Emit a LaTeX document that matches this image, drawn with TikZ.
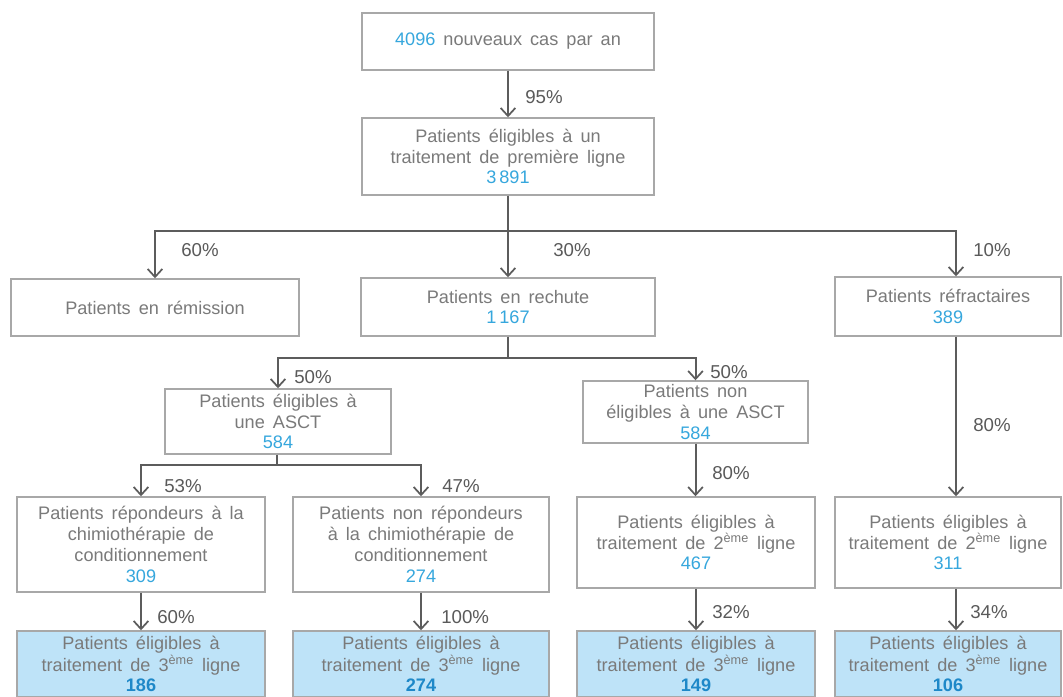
\documentclass[tikz,border=0pt]{standalone}
\usepackage{fontspec}
\setmainfont{Liberation Sans}[WordSpace=1.6]
\usetikzlibrary{arrows.meta}
\definecolor{boxborder}{HTML}{A8A8A8}
\definecolor{textgray}{HTML}{7A7A7A}
\definecolor{numblue}{HTML}{36A7DD}
\definecolor{boldblue}{HTML}{1E88C8}
\definecolor{fillblue}{HTML}{BEE3F8}
\definecolor{linecol}{HTML}{5C5C5C}
\definecolor{pctcol}{HTML}{5A5A5A}
\newcommand\numb[1]{\textcolor{numblue}{#1}}
\newcommand\numbb[1]{\textcolor{boldblue}{\bfseries #1}}
\begin{document}
\begin{tikzpicture}[x=0.75pt,y=-0.75pt,
  box/.style={draw=boxborder,line width=1.1pt,fill=white,align=center,inner sep=0pt,text=textgray,font=\fontsize{13.6}{15.6}\selectfont},
  bbox/.style={box,fill=fillblue,font=\fontsize{13.6}{15}\selectfont},
  W/.style={minimum width=#1*0.75pt},
  H/.style={minimum height=#1*0.75pt},
  conn/.style={draw=linecol,line width=1.5pt},
  arr/.style={conn,-{Straight Barb[length=6pt,width=11pt,line width=1.3pt]}},
  pct/.style={anchor=west,inner sep=0pt,text=pctcol,font=\fontsize{14}{16}\selectfont},
]
\useasboundingbox[fill=white] (0,0) rectangle (1063,696);

% boxes
\node[box,W=292,H=57] (n1) at (508,41.5) {\numb{4096} nouveaux cas par an};
\node[box,W=292,H=77] (n2) at (508,156.5) {Patients éligibles à un\\traitement de première ligne\\\numb{3\,891}};
\node[box,W=288,H=57] (rem) at (155,307.5) {Patients en rémission};
\node[box,W=294,H=58] (rech) at (508,307) {Patients en rechute\\\numb{1\,167}};
\node[box,W=226,H=59] (refr) at (948,306.5) {Patients réfractaires\\\numb{389}};
\node[box,W=226,H=65] (asct) at (278,421.5) {Patients éligibles à\\une ASCT\\\numb{584}};
\node[box,W=225,H=62] (nonasct) at (695.5,412) {Patients non\\éligibles à une ASCT\\\numb{584}};
\node[box,W=248,H=95] (rep) at (141,544.5) {Patients répondeurs à la\\chimiothérapie de\\conditionnement\\\numb{309}};
\node[box,W=256,H=95] (nonrep) at (421,544.5) {Patients non répondeurs\\à la chimiothérapie de\\conditionnement\\\numb{274}};
\node[box,W=238,H=91] (l2a) at (696,542.5) {Patients éligibles à\\traitement de 2\textsuperscript{ème} ligne\\\numb{467}};
\node[box,W=226,H=91] (l2b) at (948,542.5) {Patients éligibles à\\traitement de 2\textsuperscript{ème} ligne\\\numb{311}};
\node[bbox,W=248,H=66] (b1) at (141,664) {Patients éligibles à\\traitement de 3\textsuperscript{ème} ligne\\\numbb{186}};
\node[bbox,W=256,H=66] (b2) at (421,664) {Patients éligibles à\\traitement de 3\textsuperscript{ème} ligne\\\numbb{274}};
\node[bbox,W=238,H=66] (b3) at (696,664) {Patients éligibles à\\traitement de 3\textsuperscript{ème} ligne\\\numbb{149}};
\node[bbox,W=226,H=66] (b4) at (948,664) {Patients éligibles à\\traitement de 3\textsuperscript{ème} ligne\\\numbb{106}};

% junctions
\coordinate (j1) at (508,231);
\coordinate (rt) at (956,231);
\coordinate (j2) at (508,358);
\coordinate (j3) at (277,465);

% connectors
\draw[arr] (n1.south) -- (n2.north);
\draw[conn] (n2.south) -- (j1);
\draw[arr] (j1) -| (rem.north);
\draw[arr] (j1) -- (rech.north);
\draw[arr] (j1) -- (rt) -- (refr.north -| rt);
\draw[conn] (rech.south) -- (j2);
\draw[arr] (j2) -| (asct.north);
\draw[arr] (j2) -| (nonasct.north);
\draw[conn] (asct.south -| j3) -- (j3);
\draw[arr] (j3) -| (rep.north);
\draw[arr] (j3) -| (nonrep.north);
\draw[arr] (nonasct.south) -- (nonasct.south |- l2a.north);
\draw[arr] (refr.south -| rt) -- (l2b.north -| rt);
\draw[arr] (rep.south) -- (b1.north);
\draw[arr] (nonrep.south) -- (b2.north);
\draw[arr] (l2a.south) -- (b3.north);
\draw[arr] (l2b.south -| rt) -- (b4.north -| rt);

% percentages
\node[pct] (p95) at (525,97) {95\%};
\node[pct] (p60a) at (181,250) {60\%};
\node[pct] (p30) at (553,250) {30\%};
\node[pct] (p10) at (973,250) {10\%};
\node[pct] (p50a) at (294,377) {50\%};
\node[pct] (p50b) at (710,372) {50\%};
\node[pct] (p80a) at (973,425) {80\%};
\node[pct] (p53) at (164,486) {53\%};
\node[pct] (p47) at (442,486) {47\%};
\node[pct] (p80b) at (712,473) {80\%};
\node[pct] (p60b) at (157,617) {60\%};
\node[pct] (p100) at (441,617) {100\%};
\node[pct] (p32) at (712,612) {32\%};
\node[pct] (p34) at (970,612) {34\%};
\end{tikzpicture}
\end{document}
